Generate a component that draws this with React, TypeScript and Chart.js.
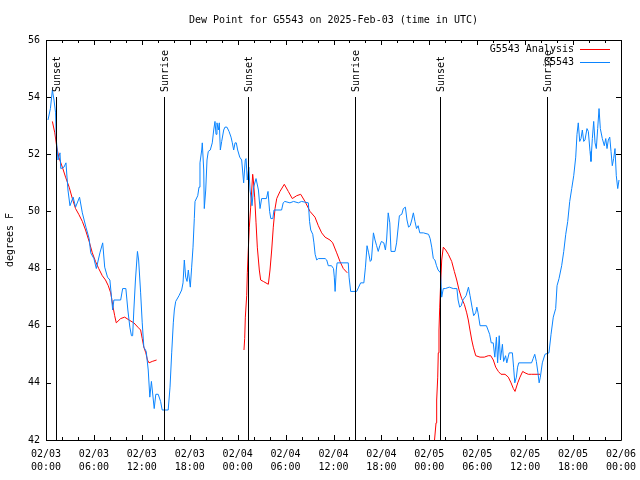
import React, { useEffect, useRef } from "react";
import { Chart, registerables } from "chart.js";

Chart.register(...registerables);

const TITLE = "Dew Point for G5543 on 2025-Feb-03 (time in UTC)";
const Y_TITLE = "degrees F";
const SERIES_NAMES = ["G5543 Analysis", "G5543"];
const X_TICK_LABELS = [
  ["02/03", "00:00"], ["02/03", "06:00"], ["02/03", "12:00"], ["02/03", "18:00"],
  ["02/04", "00:00"], ["02/04", "06:00"], ["02/04", "12:00"], ["02/04", "18:00"],
  ["02/05", "00:00"], ["02/05", "06:00"], ["02/05", "12:00"], ["02/05", "18:00"],
  ["02/06", "00:00"],
];
const X_MIN = 0;
const X_MAX = 72;
const Y_MIN = 42;
const Y_MAX = 56;

const SUN_LABELS = ["Sunset", "Sunrise", "Sunset", "Sunrise", "Sunset", "Sunrise"];
const SUN_HOURS = [1.31, 14.78, 25.3, 38.73, 49.34, 62.73];
const SUN_LINE_TOP = 54;

// hours since 2025-02-03 00:00 UTC
const ANALYSIS_HOURS = [
  0.8, 1.1, 1.35, 1.6, 2.05, 2.45, 2.9, 3.3, 3.7, 4.1, 4.55, 4.95, 5.4, 5.8, 6.2, 6.6, 7.05, 7.45, 7.8, 8.1,
  8.4, 8.6, 8.8, 9.35, 9.85, 10.4, 11.0, 11.5, 11.85, 12.05, 12.25, 12.5, 12.7, 12.9, 13.3, 13.85,
  19,
  24.79, 24.88, 24.96, 25.13, 25.21, 25.33, 25.46, 25.63, 25.76, 25.88, 25.96, 26.13, 26.3, 26.46, 26.71, 26.88,
  27.21, 27.84, 28.05, 28.26, 28.46, 28.68, 28.89, 29.3, 29.84, 30.34, 30.84, 31.39, 31.89, 32.43, 33.06, 33.68,
  34.1, 34.52, 34.94, 35.56, 35.9, 36.4, 36.81, 37.23, 37.73,
  43,
  48.62, 48.84, 48.92, 49.05, 49.12, 49.21, 49.3, 49.42, 49.55, 49.75, 50.05, 50.38, 50.8, 51.13, 51.43, 51.72,
  52.05, 52.38, 52.68, 52.88, 53.09, 53.31, 53.51, 53.81, 54.35, 54.88, 55.38, 55.69, 56.01, 56.31, 56.64, 56.97,
  57.48, 57.89, 58.23, 58.52, 58.73, 59.07, 59.35, 59.69, 59.98, 60.39, 60.82, 61.23, 61.86,
];
const ANALYSIS_VALUES = [
  53.15, 52.75, 52.25, 51.9, 51.55, 51.2, 50.85, 50.45, 50.1, 49.9, 49.65, 49.35, 48.95, 48.55, 48.25, 48.0, 47.75, 47.6, 47.4, 47.15,
  46.65, 46.35, 46.1, 46.25, 46.3, 46.2, 46.1, 45.95, 45.85, 45.55, 45.25, 45.05, 44.8, 44.7, 44.75, 44.8,
  null,
  45.15, 45.55, 46.3, 47.05, 47.85, 48.65, 49.45, 50.15, 50.75, 51.3, 51.1, 50.5, 49.6, 48.75, 47.95, 47.6,
  47.55, 47.45, 47.95, 48.65, 49.45, 50.1, 50.45, 50.7, 50.95, 50.7, 50.45, 50.55, 50.6, 50.35, 50.0, 49.8,
  49.5, 49.25, 49.1, 49.0, 48.9, 48.55, 48.25, 48.0, 47.85,
  null,
  41.9, 42.6, 43.4, 44.2, 45.05, 45.85, 46.65, 47.5, 48.3, 48.75, 48.65, 48.5, 48.25, 47.9, 47.6, 47.25,
  46.95, 46.75, 46.45, 46.2, 45.85, 45.5, 45.25, 44.95, 44.9, 44.9, 44.95, 44.95, 44.8, 44.55, 44.4, 44.3,
  44.3, 44.2, 44.0, 43.8, 43.7, 44.0, 44.2, 44.4, 44.35, 44.3, 44.3, 44.3, 44.3,
];

const OBS_HOURS = [
  0.25, 0.55, 0.8, 1.0, 1.2, 1.3, 1.5, 1.75, 1.85, 2.25, 2.5, 2.75, 3.0, 3.4, 3.7, 4.2, 4.55, 5.0, 5.4, 5.6,
  6.0, 6.3, 6.75, 7.1, 7.35, 7.7, 8.0, 8.2, 8.35, 8.5, 9.35, 9.6, 10.0, 10.25, 10.5, 10.7, 10.85, 11.0, 11.2, 11.45,
  11.6, 11.85, 12.05, 12.25, 12.55, 12.8, 13.0, 13.2, 13.55, 13.75, 14.05, 14.35, 14.55, 15.3,
  15.53, 15.74, 15.94, 16.07, 16.24, 16.65, 16.99, 17.16, 17.32, 17.49, 17.66, 17.82, 18.07, 18.24, 18.41, 18.57,
  18.66, 19.0, 19.16, 19.28, 19.5, 19.57, 19.75, 19.82, 20.0, 20.16, 20.32, 20.57, 20.82, 21.0, 21.16, 21.29,
  21.41, 21.58, 21.7, 21.83, 22.0, 22.25, 22.41, 22.66, 22.92, 23.17, 23.33, 23.5, 23.67, 23.83, 24.0, 24.26,
  24.5, 24.75, 24.95, 25.05, 25.2, 25.4, 25.55, 25.8, 26.0, 26.3, 26.6, 26.8, 27.0, 27.6, 27.8, 28.0, 28.15, 28.4,
  28.55, 29.5, 29.7, 29.9, 30.55, 31.0, 31.6, 32.0, 32.85, 33.0, 33.15, 33.4, 33.55, 33.7, 33.9, 34.1, 34.95,
  35.15, 35.35, 35.75, 36.0, 36.1, 36.2, 36.35, 36.45, 37.85, 37.95, 38.15, 38.9, 39.15, 39.4, 39.8, 40.0, 40.2,
  40.4, 40.6, 40.75, 41.0, 41.2, 41.4, 41.6, 41.8, 42.0, 42.3, 42.5, 42.65, 42.85, 43.05, 43.2, 43.7, 43.9, 44.25,
  44.55, 44.75, 45.0, 45.2, 45.4, 45.6, 45.8, 46.0, 46.2, 46.4, 46.6, 46.8, 47.25, 47.9, 48.1, 48.3, 48.5, 48.7,
  48.9, 49.1, 49.4, 49.55, 49.75, 50.0, 50.5, 51.0, 51.45, 51.6, 51.8, 52.0, 52.2, 52.6, 52.9, 53.1, 53.35, 53.55,
  53.8, 53.95, 54.1, 54.35, 55.15, 55.35, 55.55, 55.75, 56.0, 56.2, 56.4, 56.55, 56.75, 56.9, 57.15, 57.3, 57.55,
  57.7, 58.0, 58.4, 58.55, 58.7, 58.9, 59.05, 59.2, 60.8, 61.0, 61.2, 61.4, 61.6, 61.75, 61.9, 62.15, 62.48, 62.98,
  63.24, 63.52, 63.82, 63.99, 64.24, 64.57, 64.83, 65.08, 65.33, 65.58, 65.83, 66.08, 66.33, 66.49, 66.65, 66.83,
  66.99, 67.16, 67.33, 67.49, 67.74, 67.91, 68.12, 68.24, 68.41, 68.58, 68.75, 68.91, 69.08, 69.25, 69.41, 69.66,
  69.91, 70.09, 70.25, 70.41, 70.59, 70.75, 70.91, 71.08, 71.25, 71.41, 71.59, 71.75,
];
const OBS_VALUES = [
  53.2, 53.6, 54.25, 53.9, 53.45, 52.5, 51.8, 52.05, 51.5, 51.55, 51.7, 50.75, 50.2, 50.5, 50.15, 50.5, 49.95, 49.45, 49.05, 48.55,
  48.35, 48.0, 48.55, 48.9, 48.05, 47.7, 47.6, 47.0, 46.55, 46.9, 46.9, 47.3, 47.3, 46.55, 45.95, 45.65, 45.65, 46.55, 47.6, 48.6,
  48.3, 47.15, 46.1, 45.25, 45.1, 44.45, 43.5, 44.05, 43.1, 43.6, 43.6, 43.35, 43.05, 43.05,
  43.85, 45.05, 46.1, 46.55, 46.85, 47.05, 47.25, 47.5, 48.3, 47.7, 47.55, 47.95, 47.35, 48.05, 48.75, 49.75,
  50.35, 50.55, 50.85, 51.7, 52.15, 52.4, 51.45, 50.1, 50.75, 51.8, 52.1, 52.15, 52.4, 52.85, 53.15, 52.7,
  53.1, 52.85, 53.1, 52.15, 52.45, 52.85, 52.95, 52.95, 52.8, 52.6, 52.4, 52.15, 52.4, 52.4, 52.15, 51.9,
  51.8, 51.0, 51.8, 51.85, 51.1, 51.55, 50.75, 50.2, 50.85, 51.15, 50.75, 50.1, 50.45, 50.45, 50.7, 50.0, 49.75, 49.75,
  50.05, 50.05, 50.3, 50.35, 50.3, 50.35, 50.3, 50.35, 50.3, 49.65, 49.35, 49.2, 48.9, 48.5, 48.3, 48.35, 48.35,
  48.3, 48.1, 48.1, 48.0, 47.7, 47.2, 47.95, 48.2, 48.2, 47.7, 47.2, 47.2, 47.35, 47.5, 47.5, 48.05, 48.8,
  48.55, 48.25, 48.3, 49.25, 49.0, 48.8, 48.6, 48.8, 48.95, 48.9, 48.65, 49.0, 49.95, 49.6, 48.6, 48.6, 48.9, 49.85,
  49.9, 50.1, 50.15, 49.7, 49.45, 49.5, 49.7, 49.95, 49.65, 49.4, 49.5, 49.25, 49.25, 49.2, 49.05, 48.75, 48.35, 48.3,
  48.1, 47.95, 47.85, 47.0, 47.3, 47.3, 47.35, 47.3, 47.3, 46.9, 46.65, 46.7, 46.9, 47.05, 47.35, 47.05, 46.65, 46.35,
  46.45, 46.65, 46.45, 46.0, 46.0, 45.85, 45.7, 45.4, 45.4, 44.9, 45.6, 44.7, 45.65, 44.8, 45.35, 44.75, 44.95,
  44.7, 45.05, 45.05, 44.55, 44.0, 44.2, 44.55, 44.7, 44.7, 44.85, 45.0, 44.75, 44.35, 44.0, 44.2, 44.7, 45.0, 45.05,
  45.7, 46.3, 46.6, 47.4, 47.65, 48.1, 48.6, 49.2, 49.65, 50.35, 50.8, 51.25, 51.9, 52.7, 53.1, 52.45,
  52.55, 52.85, 52.45, 52.5, 52.9, 52.8, 52.1, 51.75, 52.55, 53.15, 52.4, 52.2, 52.9, 53.6, 52.9, 52.55,
  52.3, 52.55, 52.2, 52.5, 52.6, 52.1, 51.6, 51.85, 52.2, 51.25, 50.8, 51.1,
];

const ANALYSIS_COLOR = "#ff0000";
const OBS_COLOR = "#0a84ff";
const FONT_FAMILY = "'DejaVu Sans Mono', monospace";

const decorPlugin = {
  id: "decor",
  afterDatasetsDraw(chart: any) {
    const { ctx, chartArea, scales } = chart;
    const xs = scales.x;
    const ys = scales.y;
    ctx.save();
    ctx.strokeStyle = "#000";
    ctx.lineWidth = 1;
    ctx.fillStyle = "#000";
    ctx.font = `10px ${FONT_FAMILY}`;
    const topY = Math.round(ys.getPixelForValue(SUN_LINE_TOP));
    SUN_HOURS.forEach((h, i) => {
      const px = Math.round(xs.getPixelForValue(h)) + 0.5;
      ctx.beginPath();
      ctx.moveTo(px, topY);
      ctx.lineTo(px, chartArea.bottom);
      ctx.stroke();
      ctx.save();
      ctx.translate(px + 1, topY - 5);
      ctx.rotate(-Math.PI / 2);
      ctx.textAlign = "left";
      ctx.textBaseline = "middle";
      ctx.fillText(SUN_LABELS[i], 0, 0);
      ctx.restore();
    });
    ctx.restore();
  },
  afterDraw(chart: any) {
    const { ctx, chartArea, scales } = chart;
    const xs = scales.x;
    const ys = scales.y;
    const { left, right, top, bottom } = chartArea;
    ctx.save();
    ctx.strokeStyle = "#000";
    ctx.lineWidth = 1;
    ctx.beginPath();
    ctx.rect(left + 0.5, top + 0.5, right - left, bottom - top);
    ctx.stroke();
    for (let h = X_MIN; h <= X_MAX; h += 2) {
      const px = Math.round(xs.getPixelForValue(h)) + 0.5;
      const len = h % 6 === 0 ? 5 : 3;
      ctx.beginPath();
      ctx.moveTo(px, bottom);
      ctx.lineTo(px, bottom - len);
      ctx.moveTo(px, top);
      ctx.lineTo(px, top + len);
      ctx.stroke();
    }
    for (let v = Y_MIN; v <= Y_MAX; v += 2) {
      const py = Math.round(ys.getPixelForValue(v)) + 0.5;
      ctx.beginPath();
      ctx.moveTo(left, py);
      ctx.lineTo(left + 5, py);
      ctx.moveTo(right, py);
      ctx.lineTo(right - 5, py);
      ctx.stroke();
    }
    ctx.fillStyle = "#000";
    ctx.font = `10px ${FONT_FAMILY}`;
    ctx.textAlign = "center";
    ctx.textBaseline = "middle";
    ctx.fillText(TITLE, (left + right) / 2, 20);
    const colors = [ANALYSIS_COLOR, OBS_COLOR];
    SERIES_NAMES.forEach((name, i) => {
      const y = 49.5 + i * 13;
      ctx.textAlign = "right";
      ctx.fillStyle = "#000";
      ctx.fillText(name, right - 47, y);
      ctx.strokeStyle = colors[i];
      ctx.beginPath();
      ctx.moveTo(right - 41, Math.round(y) - 0.5);
      ctx.lineTo(right - 11, Math.round(y) - 0.5);
      ctx.stroke();
    });
    ctx.restore();
  },
};

function toPoints(hours: number[], values: (number | null)[]) {
  return hours.map((h, i) => ({ x: h, y: values[i] }));
}

export default function App() {
  const canvasRef = useRef<HTMLCanvasElement | null>(null);

  useEffect(() => {
    const canvas = canvasRef.current;
    if (!canvas) return;
    const chart = new Chart(canvas, {
      type: "line",
      data: {
        datasets: [
          {
            label: SERIES_NAMES[0],
            data: toPoints(ANALYSIS_HOURS, ANALYSIS_VALUES),
            borderColor: ANALYSIS_COLOR,
            backgroundColor: ANALYSIS_COLOR,
            borderWidth: 1,
            pointRadius: 0,
            tension: 0,
            spanGaps: false,
            order: 1,
          },
          {
            label: SERIES_NAMES[1],
            data: toPoints(OBS_HOURS, OBS_VALUES),
            borderColor: OBS_COLOR,
            backgroundColor: OBS_COLOR,
            borderWidth: 1,
            pointRadius: 0,
            tension: 0,
            order: 0,
          },
        ],
      },
      options: {
        responsive: false,
        animation: false,
        events: [],
        layout: { padding: { top: 40, right: 19, left: 0, bottom: 0 } },
        plugins: {
          legend: { display: false },
          title: { display: false },
          tooltip: { enabled: false },
        },
        scales: {
          x: {
            type: "linear",
            min: X_MIN,
            max: X_MAX,
            border: { display: false },
            grid: { display: false, drawTicks: false },
            ticks: {
              stepSize: 6,
              autoSkip: false,
              maxRotation: 0,
              minRotation: 0,
              padding: 8,
              color: "#000",
              font: { family: FONT_FAMILY, size: 10, lineHeight: 1.3 },
              callback: (_v: any, i: number) => X_TICK_LABELS[i],
            },
            afterFit: (scale: any) => {
              scale.height = 40;
              scale.paddingLeft = 0;
              scale.paddingRight = 0;
            },
          },
          y: {
            type: "linear",
            min: Y_MIN,
            max: Y_MAX,
            border: { display: false },
            grid: { display: false, drawTicks: false },
            ticks: {
              stepSize: 2,
              padding: 6,
              color: "#000",
              font: { family: FONT_FAMILY, size: 10 },
            },
            title: {
              display: true,
              text: Y_TITLE,
              color: "#000",
              font: { family: FONT_FAMILY, size: 10, lineHeight: 1.2 },
              padding: { top: 4, bottom: 0 },
            },
            afterFit: (scale: any) => {
              scale.width = 46;
              scale.paddingTop = 0;
              scale.paddingBottom = 0;
            },
          },
        },
      },
      plugins: [decorPlugin],
    });
    return () => chart.destroy();
  }, []);

  return (
    <div style={{ position: "absolute", left: 0, top: 0, width: 640, height: 480, background: "#fff" }}>
      <canvas ref={canvasRef} width={640} height={480} style={{ display: "block" }} />
    </div>
  );
}
